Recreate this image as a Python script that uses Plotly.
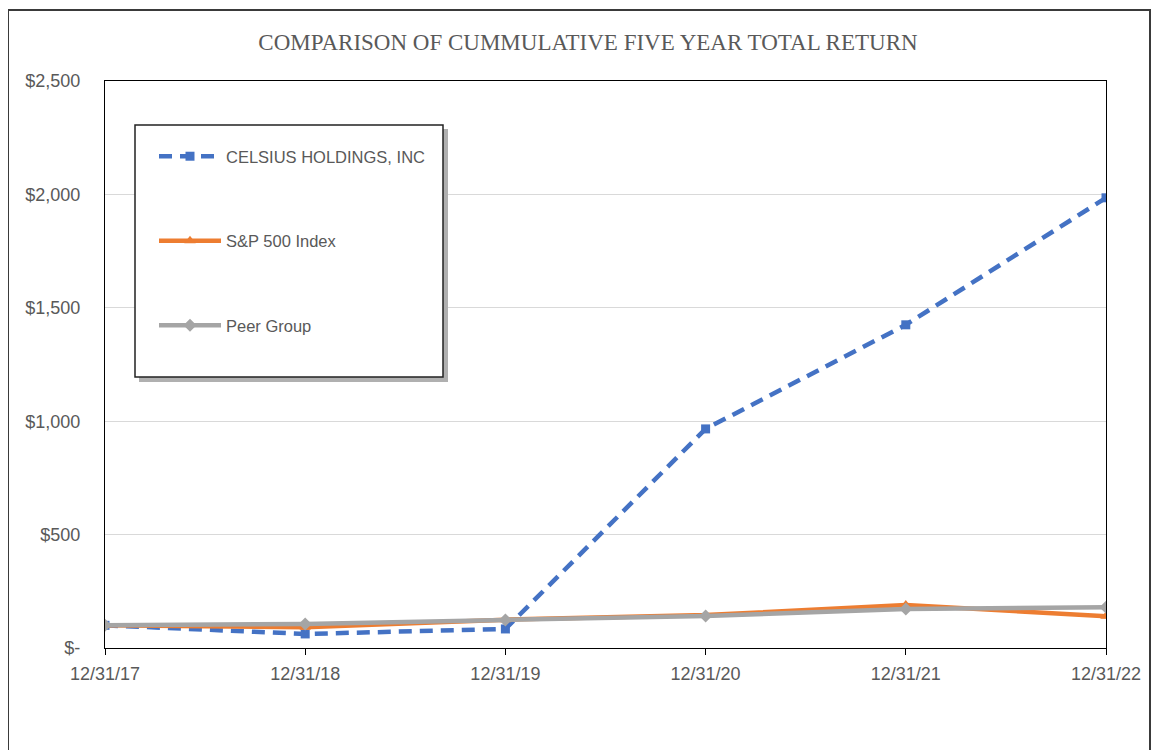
import plotly.graph_objects as go

dates = ["12/31/17", "12/31/18", "12/31/19", "12/31/20", "12/31/21", "12/31/22"]
celsius = [100, 62, 84, 966, 1425, 1985]
sp500 = [100, 92, 125, 145, 190, 140]
peer = [100, 106, 124, 141, 172, 180]
yticks = [0, 500, 1000, 1500, 2000, 2500]
ytick_text = ["$-", "$500", "$1,000", "$1,500", "$2,000", "$2,500"]

# page offset (body margin) compensation
OFF = 8
W, H = 1159 - OFF, 750 - OFF
PL, PR, PT, PB = 105, 1106, 81, 648   # plot area on screen
L, R, T, B = PL - OFF, W - (PR - OFF), PT - OFF, H - (PB - OFF)
pw, ph = W - L - R, H - T - B


def px(x):
    return (x - OFF - L) / pw


def py(y):
    return (H - B - (y - OFF)) / ph


fig = go.Figure()
fig.add_trace(go.Scatter(
    x=dates, y=celsius, name="CELSIUS HOLDINGS, INC", mode="lines+markers",
    line=dict(color="#4472C4", width=4.5, dash="13px,8px"),
    marker=dict(symbol="square", size=9, color="#4472C4"), legendgroup="a"))
fig.add_trace(go.Scatter(
    x=dates, y=sp500, name="S&P 500 Index", mode="lines+markers",
    line=dict(color="#ED7D31", width=4.5),
    marker=dict(symbol="triangle-up", size=10, color="#ED7D31"), legendgroup="b"))
fig.add_trace(go.Scatter(
    x=dates, y=peer, name="Peer Group", mode="lines+markers",
    line=dict(color="#A5A5A5", width=4.5),
    marker=dict(symbol="diamond", size=10, color="#A5A5A5"), legendgroup="c"))

shapes = [
    dict(type="rect", xref="paper", yref="paper", x0=px(8), x1=px(1150), y0=py(780), y1=py(10),
         line=dict(color="#3a3a3a", width=2), fillcolor="rgba(0,0,0,0)", layer="below"),
    dict(type="rect", xref="paper", yref="paper", x0=px(139), x1=px(448), y0=py(382), y1=py(129),
         line=dict(width=0), fillcolor="#b0b0b0", layer="above"),
    dict(type="rect", xref="paper", yref="paper", x0=px(135), x1=px(443), y0=py(377), y1=py(125),
         line=dict(color="#222222", width=1.5), fillcolor="white", layer="above"),
]

fig.update_layout(
    width=W, height=H,
    margin=dict(l=L, r=R, t=T, b=B),
    paper_bgcolor="white", plot_bgcolor="white",
    title=dict(text="COMPARISON OF CUMMULATIVE FIVE YEAR TOTAL RETURN",
               x=(588 - OFF) / W, xanchor="center", y=1 - (42 - OFF) / H, yanchor="middle",
               font=dict(family="Liberation Serif, serif", size=23, color="#595959")),
    font=dict(family="Liberation Sans, Arial, sans-serif", size=17, color="#595959"),
    showlegend=True,
    legend=dict(x=px(154), y=py(139), xanchor="left", yanchor="top",
                bgcolor="rgba(0,0,0,0)", borderwidth=0, tracegroupgap=60, itemwidth=62,
                font=dict(family="Liberation Sans, Arial, sans-serif", size=16.5, color="#595959")),
    shapes=shapes,
)
fig.update_xaxes(type="category", range=[0, 5], showgrid=False, showline=True, linecolor="black",
                 linewidth=1.2, mirror=True, ticks="outside", ticklen=6, tickcolor="black",
                 tickfont=dict(size=18, color="#595959"), fixedrange=True, ticklabelstandoff=3)
fig.update_yaxes(range=[0, 2500], tickvals=yticks, ticktext=ytick_text, showgrid=True,
                 gridcolor="#D9D9D9", gridwidth=1, showline=True, linecolor="black", linewidth=1.2,
                 mirror=True, ticks="", zeroline=False, tickfont=dict(size=18, color="#595959"),
                 ticklabelstandoff=20)

fig.write_html("out.html")
